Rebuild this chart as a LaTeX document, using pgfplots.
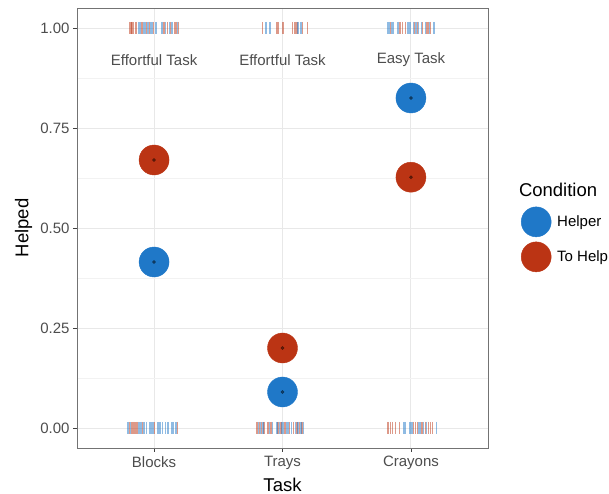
\documentclass[border=0pt]{standalone}
\usepackage{pgfplots}
\pgfplotsset{compat=1.18}
\usepackage{fontspec}
\setmainfont{Liberation Sans}
\definecolor{cblue}{RGB}{31,120,200}
\definecolor{cred}{RGB}{187,52,20}
\definecolor{tickgray}{RGB}{77,77,77}
\begin{document}
\begin{tikzpicture}
\path[use as bounding box] (0,0) rectangle (609bp,494bp);
\begin{axis}[
 at={(77bp,46bp)}, anchor=south west, scale only axis, width=411bp, height=440bp,
 clip mode=individual,
 xmin=0.4, xmax=3.6, ymin=-0.05, ymax=1.05,
 xtick={1,2,3}, xticklabels={Blocks,Trays,Crayons},
 ytick={0,0.25,0.5,0.75,1}, yticklabels={0.00,0.25,0.50,0.75,1.00},
 minor ytick={0.125,0.375,0.625,0.875},
 grid=both,
 major grid style={color=black!9, line width=0.9bp},
 minor grid style={color=black!5, line width=0.5bp},
 axis line style={color=black!55, line width=0.9bp},
 tick style={color=black!75, line width=0.8bp},
 major tick length=4bp, minor tick length=0pt, tick align=outside, tick pos=left,
 ticklabel style={font=\fontsize{15bp}{17bp}\selectfont, color=tickgray},
 xticklabel style={yshift=-1bp},
 xlabel={Task}, ylabel={Helped},
 label style={font=\fontsize{18.5bp}{20bp}\selectfont},
 xlabel style={at={(axis description cs:0.5,-0.084)}, anchor=center},
 ylabel style={at={(axis description cs:-0.13,0.5)}, anchor=center},
 legend style={at={(axis description cs:1.073,0.553)}, anchor=north west, draw=none, fill=none,
   font=\fontsize{15bp}{17bp}\selectfont, row sep=5bp},
 legend cell align=left,
]
% rug marks (jittered individual outcomes)
\addplot[only marks, mark=|, mark size=6bp, color=cred, opacity=0.5, line width=1.4bp, forget plot] coordinates {
(0.808,1)(0.819,1)(0.829,1)(0.839,1)(0.860,1)(0.901,1)(0.912,1)(0.943,1)(0.963,1)(0.995,1)(1.078,1)(1.104,1)(1.130,1)(1.161,1)(1.171,1)(1.192,1)
(1.842,1)(1.958,1)(1.971,1)(2.003,1)(2.080,1)(2.096,1)(2.112,1)(2.158,1)(2.195,1)
(2.842,1)(2.914,1)(2.935,1)(2.956,1)(3.029,1)(3.049,1)(3.091,1)(3.122,1)(3.132,1)(3.153,1)
(0.808,0)(0.829,0)(0.839,0)(0.850,0)(0.860,0)(0.870,0)(0.912,0)(1.005,0)(1.182,0)
(1.800,0)(1.821,0)(1.837,0)(1.857,0)(1.888,0)(1.909,0)(1.966,0)(1.987,0)(2.018,0)(2.054,0)(2.086,0)(2.112,0)(2.132,0)(2.153,0)
(2.816,0)(2.826,0)(2.842,0)(2.857,0)(2.878,0)(2.909,0)(3.018,0)(3.034,0)(3.049,0)(3.086,0)(3.112,0)(3.137,0)(3.153,0)(3.169,0)
};
\addplot[only marks, mark=|, mark size=6bp, color=cblue, opacity=0.5, line width=1.4bp, forget plot] coordinates {
(0.881,1)(0.891,1)(0.922,1)(0.933,1)(0.953,1)(0.974,1)(0.984,1)(1.016,1)(1.057,1)(1.067,1)(1.088,1)(1.119,1)(1.140,1)(1.181,1)
(1.873,1)(1.904,1)(2.122,1)(2.143,1)
(2.821,1)(2.831,1)(2.852,1)(2.863,1)(2.899,1)(2.977,1)(2.987,1)(2.997,1)(3.018,1)(3.039,1)(3.060,1)(3.080,1)(3.112,1)(3.143,1)(3.174,1)(3.184,1)
(0.798,0)(0.818,0)(0.881,0)(0.891,0)(0.901,0)(0.922,0)(0.943,0)(0.964,0)(0.974,0)(0.984,0)(0.995,0)(1.026,0)(1.036,0)(1.047,0)(1.067,0)(1.088,0)(1.109,0)(1.140,0)(1.150,0)(1.171,0)
(1.811,0)(1.831,0)(1.847,0)(1.899,0)(1.920,0)(1.956,0)(1.977,0)(1.997,0)(2.008,0)(2.029,0)(2.039,0)(2.049,0)(2.070,0)(2.101,0)(2.122,0)(2.143,0)(2.163,0)
(2.946,0)(2.956,0)(2.992,0)(3.008,0)(3.060,0)(3.070,0)(3.096,0)(3.122,0)(3.200,0)
};
% means
\addplot[only marks, mark=*, mark size=15bp, color=cblue, mark options={draw=none, fill=cblue}] coordinates {(1,0.415)(2,0.09)(3,0.825)};
\addlegendentry{\hspace*{4bp}Helper}
\addplot[only marks, mark=*, mark size=15bp, color=cred, mark options={draw=none, fill=cred}] coordinates {(1,0.67)(2,0.20)(3,0.627)};
\addlegendentry{\hspace*{4bp}To Help}
\addplot[only marks, mark=*, mark size=1.6bp, color=black, opacity=0.45, mark options={draw=none}, forget plot] coordinates {(1,0.415)(2,0.09)(3,0.825)(1,0.67)(2,0.20)(3,0.627)};
\node[font=\fontsize{15bp}{17bp}\selectfont, color=tickgray] at (axis cs:1,0.92) {Effortful Task};
\node[font=\fontsize{15bp}{17bp}\selectfont, color=tickgray] at (axis cs:2,0.92) {Effortful Task};
\node[font=\fontsize{15bp}{17bp}\selectfont, color=tickgray] at (axis cs:3,0.92) {Easy Task};
\node[font=\fontsize{18.5bp}{20bp}\selectfont, anchor=west, inner sep=0pt] at (axis description cs:1.075,0.586) {Condition};
\end{axis}
\end{tikzpicture}
\end{document}
